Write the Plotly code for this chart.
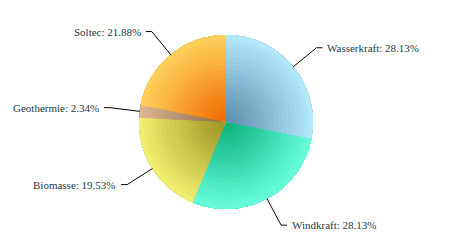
import math
from decimal import Decimal, ROUND_HALF_UP
import plotly.graph_objects as go

# ---- data ----
labels = ["Wasserkraft", "Windkraft", "Biomasse", "Geothermie", "Soltec"]
values = [36, 36, 25, 3, 28]
inner_colors = ["#5a8cab", "#08b07c", "#9a9220", "#8c6a48", "#ef6800"]
outer_colors = ["#b4eafc", "#68fedb", "#f2f072", "#deb690", "#ffd25c"]

# ---- layout constants ----
W, H = 450, 250
CX, CY, R = 226, 122, 87
dom_x = [(CX - R) / W, (CX + R) / W]
dom_y = [1 - (CY + R) / H, 1 - (CY - R) / H]
FONT = "serif"


def hex2rgb(h):
    h = h.lstrip("#")
    return [int(h[i:i + 2], 16) for i in (0, 2, 4)]


def mix(c1, c2, t):
    a, b = hex2rgb(c1), hex2rgb(c2)
    return "rgb(%d,%d,%d)" % tuple(round(a[i] + (b[i] - a[i]) * t) for i in range(3))


fig = go.Figure()
N = 20
for k in range(N):
    hole = k / N
    t = (k + 0.5) / N
    fig.add_trace(go.Pie(
        labels=labels, values=values, hole=hole, sort=False,
        direction="clockwise", rotation=0,
        marker=dict(colors=[mix(a, b, t) for a, b in zip(inner_colors, outer_colors)],
                    line=dict(width=0)),
        textinfo="none", hoverinfo="label+percent", showlegend=False,
        domain=dict(x=dom_x, y=dom_y),
    ))

total = sum(values)
cum = 0
shapes, annotations = [], []
L, SEG, GAP = 30, 6, 3


def px(x):
    return x / W


def py(y):
    return 1 - y / H


for lab, v in zip(labels, values):
    mid = (cum + v / 2) / total * 2 * math.pi
    cum += v
    s, c = math.sin(mid), math.cos(mid)
    x0, y0 = CX + R * s, CY - R * c
    x1, y1 = CX + (R + L) * s, CY - (R + L) * c
    d = 1 if s >= 0 else -1
    x2 = x1 + d * SEG
    shapes.append(dict(
        type="path", xref="paper", yref="paper",
        path="M %f %f L %f %f L %f %f" % (px(x0), py(y0), px(x1), py(y1), px(x2), py(y1)),
        line=dict(color="#000000", width=1),
    ))
    pct = Decimal(v * 100) / Decimal(total)
    pct = pct.quantize(Decimal("0.01"), rounding=ROUND_HALF_UP)
    annotations.append(dict(
        x=px(x2 + d * GAP), y=py(y1), xref="paper", yref="paper",
        text="%s: %s%%" % (lab, pct), showarrow=False,
        xanchor="left" if d > 0 else "right", yanchor="middle",
        font=dict(family=FONT, size=11, color="#1c3a46"),
    ))

fig.update_layout(
    width=W, height=H, autosize=False,
    margin=dict(l=0, r=0, t=0, b=0),
    paper_bgcolor="white", plot_bgcolor="white",
    font=dict(family=FONT),
    showlegend=False, shapes=shapes, annotations=annotations,
)

fig.write_html("out.html")
